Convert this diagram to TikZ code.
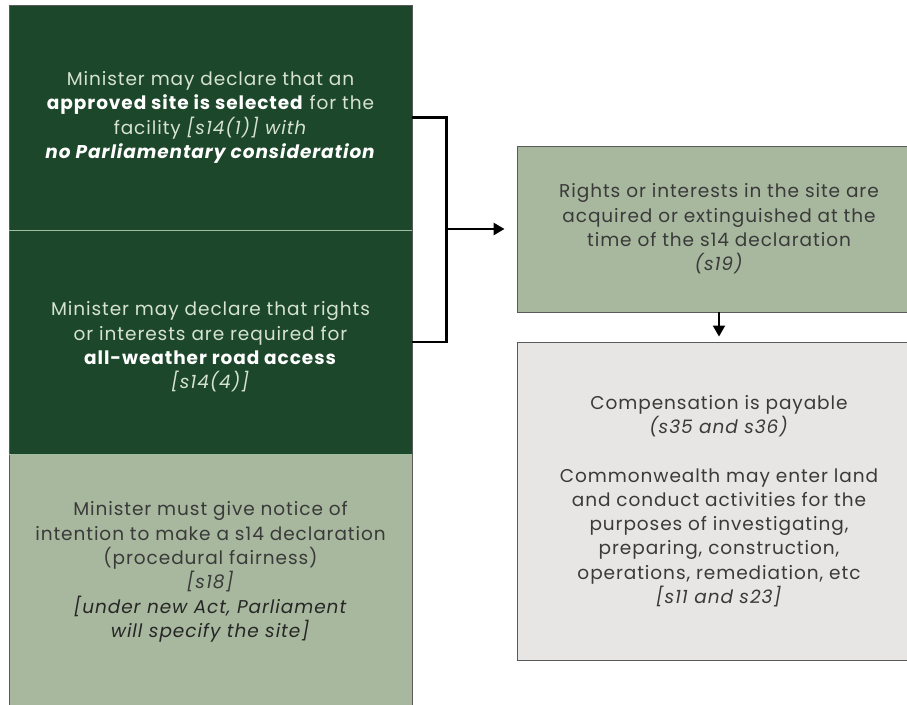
\documentclass[tikz,border=0pt]{standalone}
\usepackage{fontspec}
\setmainfont{Poppins}[LetterSpace=5]
\usetikzlibrary{arrows.meta}
\definecolor{darkgreen}{RGB}{28,71,43}
\definecolor{sage}{RGB}{168,184,158}
\definecolor{lightgrey}{RGB}{231,230,229}
\definecolor{paletext}{RGB}{214,226,210}
\definecolor{inkgrey}{RGB}{58,58,58}
\definecolor{edgegrey}{RGB}{90,90,90}
\definecolor{seamgreen}{RGB}{160,190,160}
\tikzset{
  box/.style={draw=edgegrey, line width=0.9pt, minimum width=403pt, inner sep=0pt},
  darkbox/.style={box, fill=darkgreen},
  sagebox/.style={box, fill=sage},
  greybox/.style={box, fill=lightgrey},
  words/.style={align=center, font=\fontsize{18.5}{24.3}\selectfont},
  link/.style={line width=2.6pt, -{Triangle[length=11pt,width=12pt]}}
}
\newcommand{\hiword}[1]{\textcolor{white}{\textbf{#1}}}
\begin{document}
\begin{tikzpicture}[x=1pt,y=-1pt]
\useasboundingbox[fill=white] (0,0) rectangle (907,704);
\node[darkbox, minimum height=225pt] (site) at (210.5,117.5) {};
\node[darkbox, minimum height=224pt] (road) at (210.5,342) {};
\node[sagebox, minimum height=256pt] (notice) at (210.5,582) {};
\draw[seamgreen, line width=1.2pt] (site.south west) -- (site.south east);
\draw[seamgreen, line width=1.2pt] (road.south west) -- (road.south east);
\node[words, text=paletext] (sitetext) at (site.center) {Minister may declare that an\\
  \hiword{approved site is selected} for the\\
  facility \textit{[s14(1)] with}\\
  \hiword{\textit{no Parliamentary consideration}}};
\node[words, text=paletext] (roadtext) at ([yshift=-5pt]road.center) {Minister may declare that rights\\
  or interests are required for\\
  \hiword{all-weather road access}\\
  \textit{[s14(4)]}};
\node[words, text=inkgrey] (noticetext) at (210.5,572) {Minister must give notice of\\
  intention to make a s14 declaration\\
  (procedural fairness)\\
  \textit{[s18]}\\
  \textcolor{black!85}{\textit{[under new Act, Parliament}}\\
  \textcolor{black!85}{\textit{will specify the site]}}};
\node[sagebox, minimum width=404pt, minimum height=166pt, words, text=inkgrey] (rights) at (719,229)
  {Rights or interests in the site are\\
  acquired or extinguished at the\\
  time of the s14 declaration\\
  \textit{(s19)}};
\node[greybox, minimum width=404pt, minimum height=318pt, words, text=inkgrey] (comp) at (719,501)
  {Compensation is payable\\
  \textit{(s35 and s36)}\\[24.3pt]
  Commonwealth may enter land\\
  and conduct activities for the\\
  purposes of investigating,\\
  preparing, construction,\\
  operations, remediation, etc\\
  \textit{[s11 and s23]}};
\draw[line width=2.6pt] (site.east) -- ++(34,0) coordinate (forktop) |- (road.east);
\draw[link, shorten >=12pt] (forktop |- rights.west) -- (rights.west);
\draw[link, line width=2pt, shorten >=5pt] (rights.south) -- (comp.north);
\end{tikzpicture}
\end{document}
